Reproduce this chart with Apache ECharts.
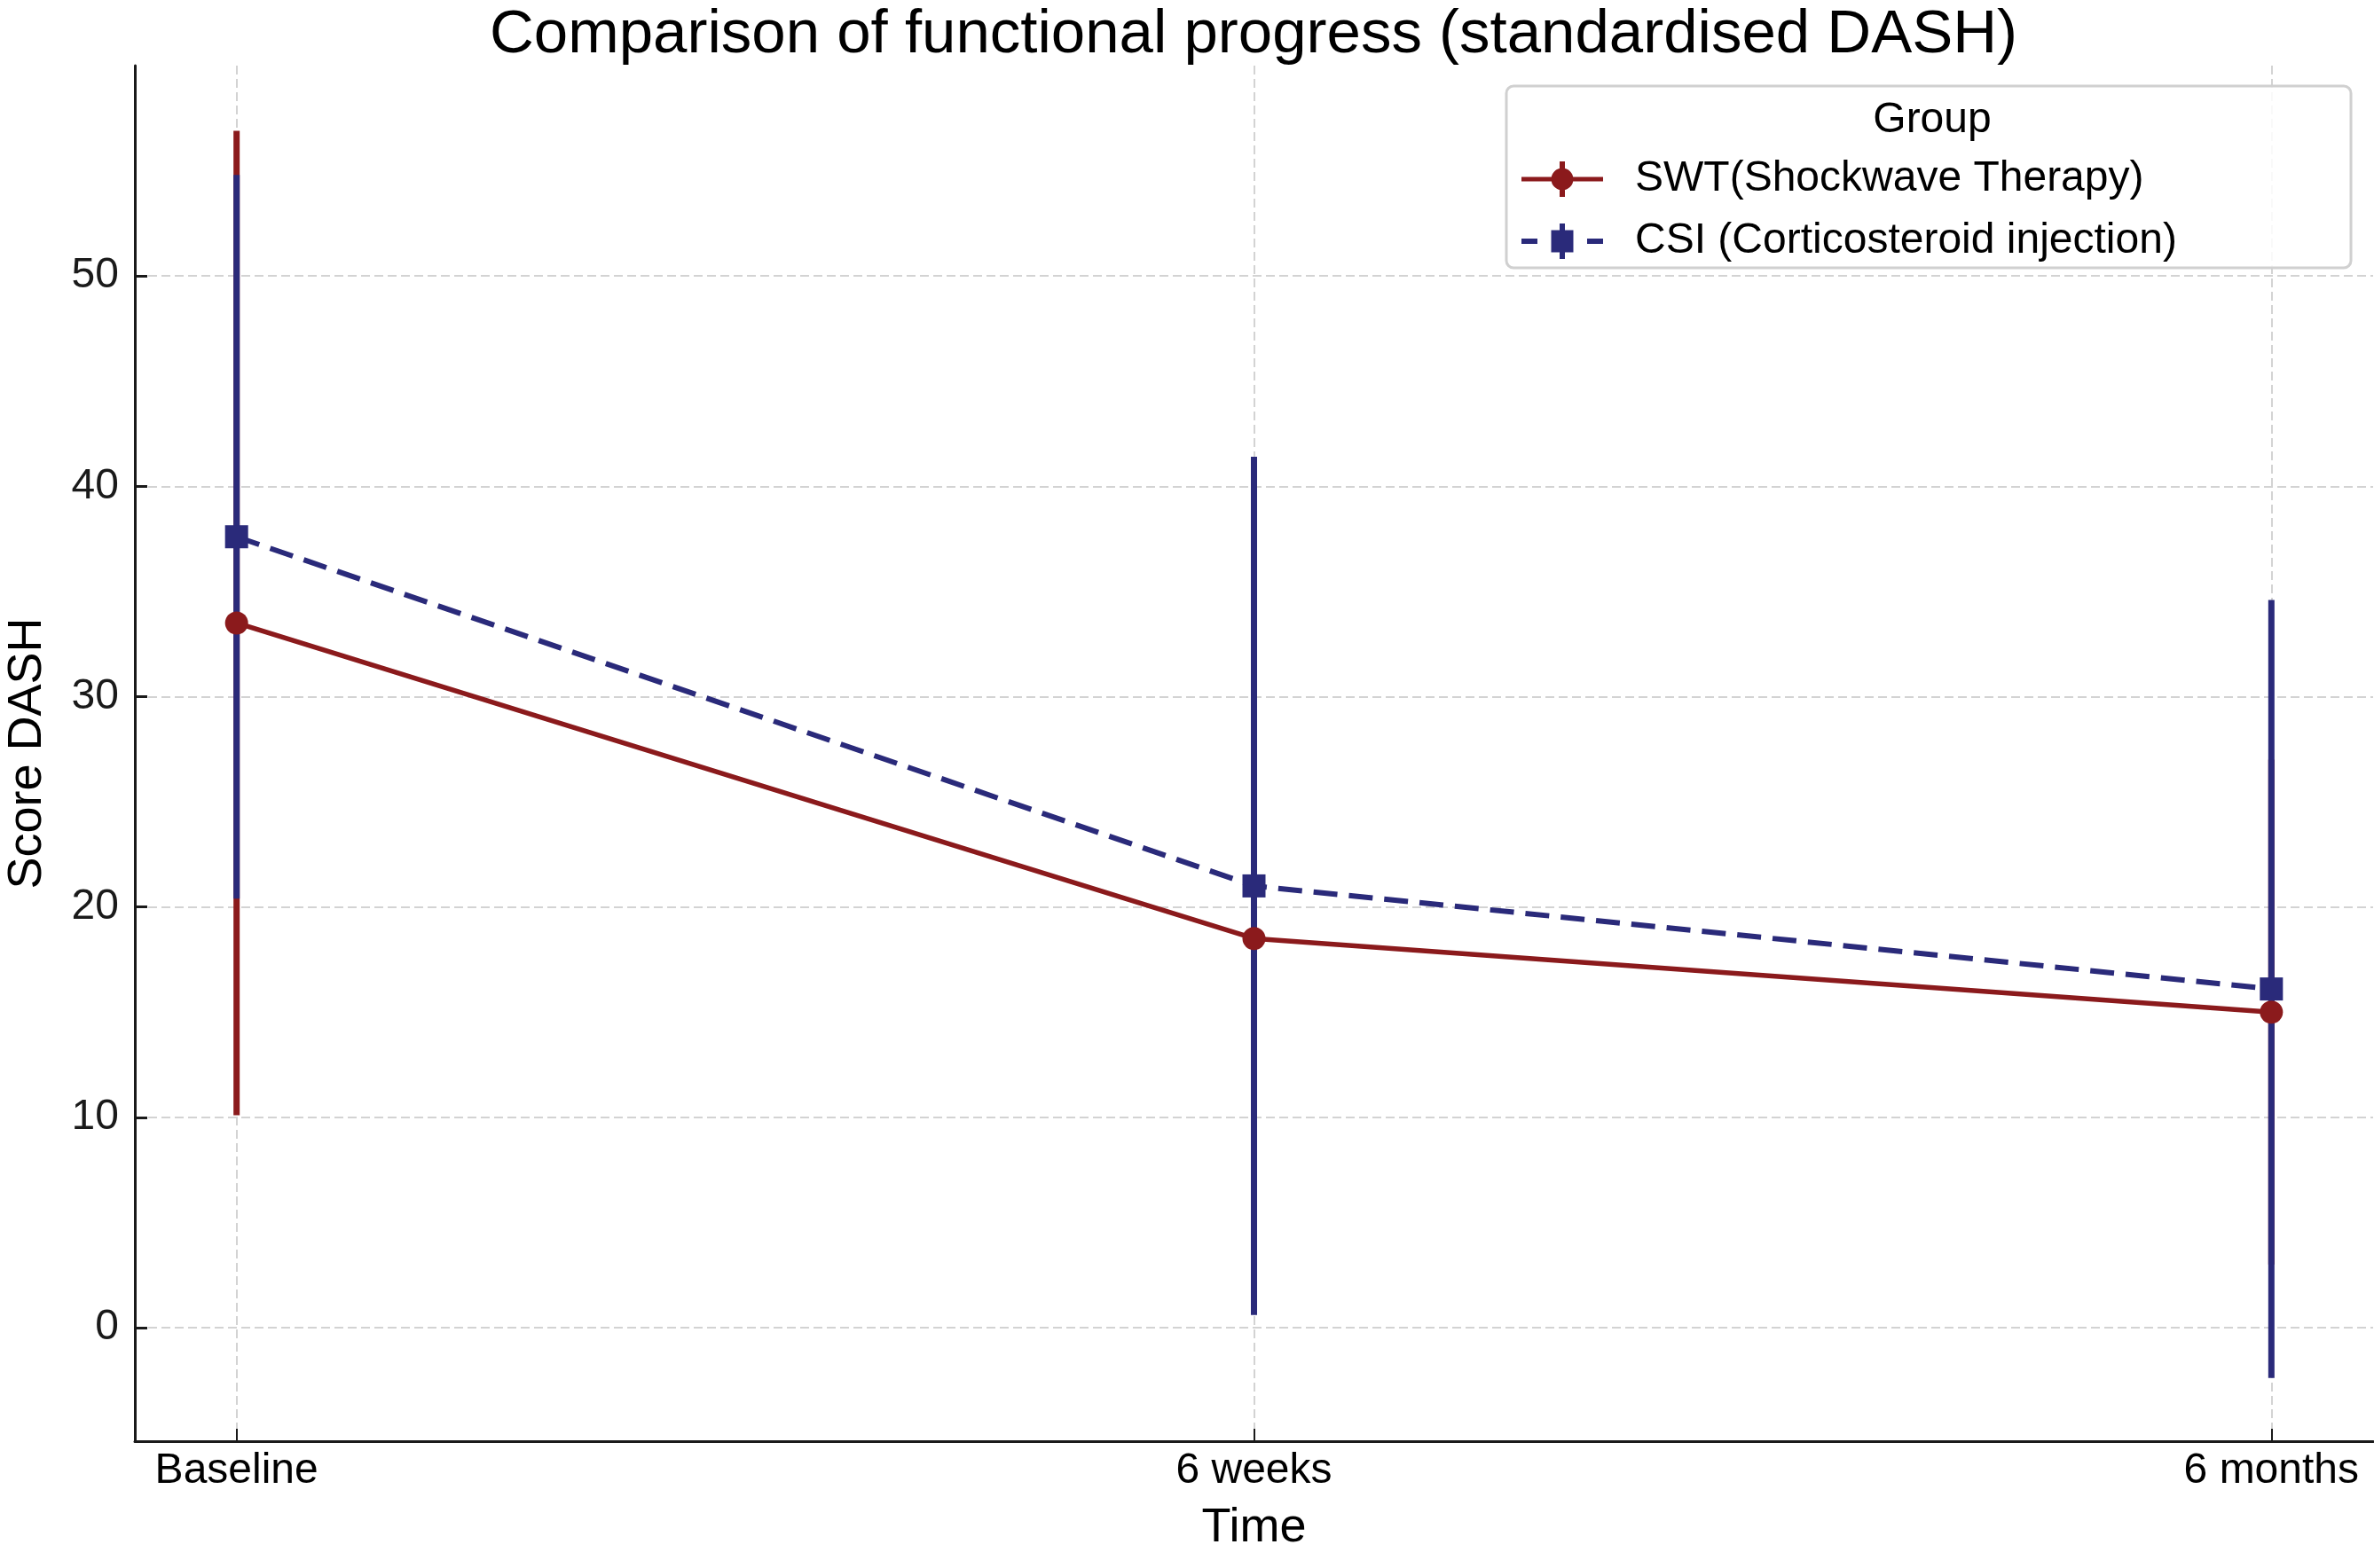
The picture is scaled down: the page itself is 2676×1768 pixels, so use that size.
<!DOCTYPE html>
<html>
<head>
<meta charset="utf-8">
<title>Comparison of functional progress (standardised DASH)</title>
<script src="https://cdn.jsdelivr.net/npm/echarts@6/dist/echarts.min.js"></script>
<style>
  html, body { margin: 0; padding: 0; background: #fff; }
  #chart { width: 2676px; height: 1768px; }
</style>
</head>
<body>
<div id="chart"></div>
<script>
// time points on the x axis
const timePoints = ['Baseline', '6 weeks', '6 months']
// y tick values
const yTicks = [0, 10, 20, 30, 40, 50]

// SWT group: mean and error (SD) per time point
const swtMean = [33.5, 18.5, 15.0]
const swtErr = [23.4, 16.0, 12.0]
// CSI group
const csiMean = [37.6, 21.0, 16.1]
const csiErr = [17.2, 20.4, 18.5]

const RED = '#8b1a1c'
const BLUE = '#2a2a7a'
const FONT = 'Liberation Sans'

const chart = echarts.init(document.getElementById('chart'))

// legend icons: line + marker + vertical error bar
const swtIcon = 'path://M0 17.5H92V22.5H0Z M43 0H49V40H43Z M33.5 20A12.5 12.5 0 1 1 58.5 20A12.5 12.5 0 1 1 33.5 20Z'
const csiIcon = 'path://M0 17H18V23H0Z M74 17H92V23H74Z M43 0H49V40H43Z M33.5 7.5H58.5V32.5H33.5Z'

const errData = (mean, err) => mean.map((m, i) => [i, m - err[i], m + err[i]])
const lineData = (mean) => mean.map((m, i) => [i, m])

const errorBars = (name, color, data, z) => ({
  name: name,
  type: 'custom',
  z: z,
  silent: true,
  data: data,
  encode: { x: 0, y: [1, 2] },
  renderItem: (params, api) => {
    const p1 = api.coord([api.value(0), api.value(1)])
    const p2 = api.coord([api.value(0), api.value(2)])
    return {
      type: 'line',
      shape: { x1: p1[0], y1: p1[1], x2: p2[0], y2: p2[1] },
      style: { stroke: color, lineWidth: 7 }
    }
  }
})

const option = {
  animation: false,
  backgroundColor: '#fff',
  textStyle: { fontFamily: FONT },
  grid: { left: 152, right: 1, top: 74, bottom: 143, containLabel: false, outerBoundsMode: 'none' },
  graphic: [
    {
      type: 'text',
      x: 1413,
      y: 40,
      style: {
        text: 'Comparison of functional progress (standardised DASH)',
        font: '69px "Liberation Sans"',
        fill: '#000',
        align: 'center',
        verticalAlign: 'middle'
      }
    },
    {
      type: 'rect',
      z: 10,
      shape: { x: 1698, y: 97, width: 952, height: 205, r: 8 },
      style: { fill: 'rgba(255,255,255,0.85)', stroke: '#d0d0d0', lineWidth: 3 }
    },
    {
      type: 'text',
      z: 11,
      x: 2178,
      y: 136,
      style: {
        text: 'Group',
        font: '48px "Liberation Sans"',
        fill: '#000',
        align: 'center',
        verticalAlign: 'middle'
      }
    }
  ],
  legend: {
    orient: 'vertical',
    left: 1710,
    top: 172,
    z: 12,
    itemWidth: 92,
    itemHeight: 40,
    itemGap: 20,
    textStyle: { fontFamily: FONT, fontSize: 48, color: '#000', lineHeight: 50, padding: [0, 0, 0, 31] },
    data: [
      { name: 'SWT(Shockwave Therapy)', icon: swtIcon, itemStyle: { color: RED, borderWidth: 0 } },
      { name: 'CSI (Corticosteroid injection)', icon: csiIcon, itemStyle: { color: BLUE, borderWidth: 0 } }
    ]
  },
  xAxis: {
    type: 'value',
    min: -0.1,
    max: 2.1,
    name: 'Time',
    nameLocation: 'middle',
    nameGap: 71,
    nameTextStyle: { fontFamily: FONT, fontSize: 54, color: '#000' },
    axisLine: { show: true, onZero: false, lineStyle: { color: '#1a1a1a', width: 3 } },
    axisTick: { show: true, inside: true, length: 14, customValues: [0, 1, 2], lineStyle: { color: '#1a1a1a', width: 2 } },
    axisLabel: {
      customValues: [0, 1, 2],
      formatter: (v) => timePoints[Math.round(v)],
      fontFamily: FONT,
      fontSize: 48,
      color: '#000',
      margin: 10
    },
    splitLine: { show: true, lineStyle: { color: '#d3d3d3', width: 2, type: [10, 5] } }
  },
  yAxis: {
    type: 'value',
    min: -5.4,
    max: 60,
    name: 'Score DASH',
    nameLocation: 'middle',
    nameGap: 94,
    nameTextStyle: { fontFamily: FONT, fontSize: 54, color: '#000' },
    axisLine: { show: true, onZero: false, lineStyle: { color: '#1a1a1a', width: 3 } },
    axisTick: { show: true, inside: true, length: 14, customValues: yTicks, lineStyle: { color: '#1a1a1a', width: 3 } },
    axisLabel: {
      customValues: yTicks,
      fontFamily: FONT,
      fontSize: 48,
      color: '#1a1a1a',
      margin: 18
    },
    splitLine: { show: true, lineStyle: { color: '#d3d3d3', width: 2, type: [10, 5] } }
  },
  series: [
    errorBars('SWT(Shockwave Therapy)', RED, errData(swtMean, swtErr), 2),
    errorBars('CSI (Corticosteroid injection)', BLUE, errData(csiMean, csiErr), 3),
    {
      name: 'SWT(Shockwave Therapy)',
      type: 'line',
      z: 4,
      data: lineData(swtMean),
      symbol: 'circle',
      symbolSize: 26,
      lineStyle: { color: RED, width: 5.5 },
      itemStyle: { color: RED }
    },
    {
      name: 'CSI (Corticosteroid injection)',
      type: 'line',
      z: 5,
      data: lineData(csiMean),
      symbol: 'rect',
      symbolSize: 26,
      lineStyle: { color: BLUE, width: 6, type: [27, 13] },
      itemStyle: { color: BLUE }
    }
  ]
}

chart.setOption(option)
</script>
</body>
</html>
